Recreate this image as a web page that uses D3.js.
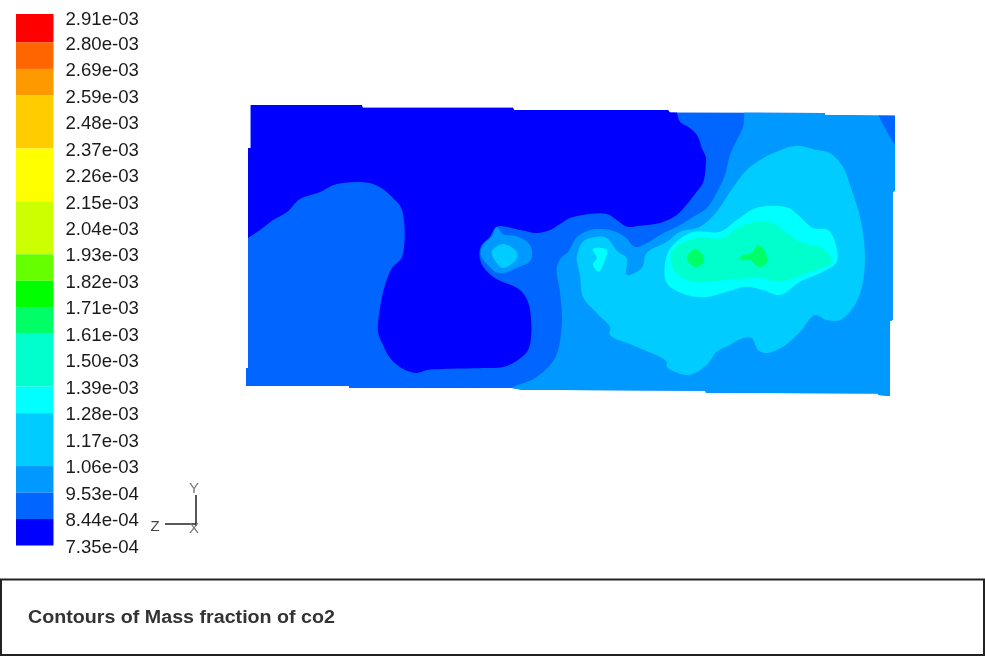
<!DOCTYPE html>
<html>
<head>
<meta charset="utf-8">
<title>Contours of Mass fraction of co2</title>
<script src="https://cdnjs.cloudflare.com/ajax/libs/d3/7.8.5/d3.min.js"></script>
<style>
  html, body { margin: 0; padding: 0; background: #fff; }
  svg { display: block; filter: blur(0.55px); }
  text { font-family: "Liberation Sans", sans-serif; fill: #1a1a1a; }
  .domain { display: none; }
</style>
</head>
<body>
<div id="chartDiv"></div>
<script>
// legend labels, top to bottom
var levelLabels = ["2.91e-03", "2.80e-03", "2.69e-03", "2.59e-03", "2.48e-03", "2.37e-03", "2.26e-03",
  "2.15e-03", "2.04e-03", "1.93e-03", "1.82e-03", "1.71e-03", "1.61e-03", "1.50e-03", "1.39e-03",
  "1.28e-03", "1.17e-03", "1.06e-03", "9.53e-04", "8.44e-04", "7.35e-04"];

// colour bands: upper level, lower level, colour
var bandUpper = ["2.91e-03", "2.80e-03", "2.69e-03", "2.59e-03", "2.37e-03", "2.15e-03", "1.93e-03", "1.82e-03",
  "1.71e-03", "1.61e-03", "1.39e-03", "1.28e-03", "1.06e-03", "9.53e-04", "8.44e-04"];
var bandLower = ["2.80e-03", "2.69e-03", "2.59e-03", "2.37e-03", "2.15e-03", "1.93e-03", "1.82e-03", "1.71e-03",
  "1.61e-03", "1.39e-03", "1.28e-03", "1.06e-03", "9.53e-04", "8.44e-04", "7.35e-04"];
var bandColors = ["#ff0000", "#ff6600", "#ff9900", "#ffcc00", "#ffff00", "#ccff00", "#66ff00", "#00ff00",
  "#00ff66", "#00ffcc", "#00ffff", "#00ccff", "#0099ff", "#0066ff", "#0000ff"];

// contour outlines, in domain units (x along, y down from top)
var outline = [[4.7,4],[115.7,4],[116.7,6.7],[267,6.7],[268,9],[422,9],[424,11.5],[579,12],[579,14],[649,14.7],[649,90],
  [646.7,90.7],[646.7,219],[644,220],[644,295],[632.3,294],[632,292.5],[460,291.7],[459.3,289.7],[314,289],[277,289],
  [265.7,287],[103,287],[103,285],[0,285],[0,267],[2,267],[2,47],[4.7,47]];
// the rest are clipped to the outline, so they run past it where they meet the wall
var lowRegion = [[-10,-10],[200,-10],[422,-10],[431,12],[434,20.7],[444,27],[452,35.7],
  [455.7,47],[459.7,55.7],[459.7,65.7],[457,82],[450.7,90.7],[442,102],[430.7,114],[414,122],[394,124.7],[380.7,125.7],
  [370.7,119],[360.7,113],[337,114],[324,117],[314,123],[304,129],[290.7,132],[274,129],[250.7,125.7],[244,135.7],
  [234.7,145.7],[234.7,160.7],[247,175.7],[274,189],[283,204],[283,247],[272,259],[257,266],[237,267],[197,268],
  [181,269],[171,272],[157,268],[144,257],[137,244],[132,231],[134,207],[139,184],[146,167],[156,156],[156,109],
  [147,97],[127,83],[91,83],[74,91],[54,98],[41,111],[27,119],[14,129],[2,137],[-10,145],[-10,60]];
var midRegion = [[503,0],[497,26],[491,39],[484,54],[479,74],[471,91],[461,107],[447,116],[434,124],[414,134],
  [401,142],[389,146],[379,136],[364,129],[344,129],[331,136],[322,151],[315.7,156],[310.7,167],[314,191],[315.7,224],
  [309,257],[289,277],[265.7,287],[250,300],[450,305],[670,305],[670,150],[670,-5],[580,-5]];
var cornerRegion = [[630,0],[639,27],[660,55],[670,0]];
var hotSpotOuter = [[250.7,126],[257,133],[272,135.7],[284,144],[285,159],[270.7,167],[257,172],[249,170.7],[242,164],
  [234.7,154],[237,144],[245.7,135.7]];
var hotSpotInner = [[257,143],[270.7,150.7],[270,159],[257,167],[250.7,162],[245.7,150.7]];
var plumeRegion = [[550.7,44.7],[570.7,49],[584,52],[597,65.7],[604,84],[610.7,104],[615.7,124],[619,157],[615.7,187],
  [607,207],[594,219],[580.7,219],[569,214],[554,231],[537,245.7],[520.7,252],[512,249],[505.7,237],[497,237],[484,244],
  [470.7,250.7],[460.7,264],[442,274],[420.7,265.7],[420.7,260.7],[390.7,245.7],[364,234],[364,226],[350.7,212],
  [337,196],[334,174],[330.7,157],[337,140.7],[350.7,135.7],[360.7,137],[372,150.7],[380.7,157],[380.7,174],[395.7,167],
  [400.7,152],[420.7,140.7],[434,130.7],[454,125.7],[470.7,110.7],[484,90.7],[500.7,69],[514,59],[530.7,50.7]];
var coreRegion = [[510.7,106.7],[542,106.7],[554,115.7],[567,127],[582,129],[589,140.7],[590.7,160.7],[577,170.7],
  [554,180.7],[534,194],[517,189],[500.7,185.7],[480.7,190.7],[460.7,196],[440.7,194],[420.7,182],[420,157],[427,144],
  [447,131],[474,130.7],[490.7,119]];
var sideSpot = [[346.7,148],[361,149],[357,164],[353,170.7],[347,164],[350.7,157]];
var innerCore = [[510.7,120.7],[527,122],[540.7,132],[557,142],[577,147],[585.7,160.7],[560.7,172],[534,180.7],[514,177],
  [480.7,179],[447,180.7],[429,170.7],[425.7,150.7],[449,137],[477,137],[490.7,127]];
var peakLeft = [[449,148],[456.7,154],[457,162],[449,166],[440.7,157]];
var peakRight = [[512,144],[519,150.7],[520.7,162],[512,165.7],[504,159],[494,159],[495.7,154.7],[505.7,152]];

var regionShapes = [lowRegion, midRegion, cornerRegion, hotSpotOuter, hotSpotInner, plumeRegion,
  coreRegion, sideSpot, innerCore, peakLeft, peakRight];
var regionBands = ["8.44e-04", "1.06e-03", "9.53e-04", "1.06e-03", "1.28e-03", "1.28e-03",
  "1.39e-03", "1.39e-03", "1.61e-03", "1.71e-03", "1.71e-03"];
var outlineBand = "9.53e-04";

var titleText = "Contours of Mass fraction of co2";

var width = 985;
var height = 664;

var chart = d3.select("#chartDiv").append("svg")
  .attr("width", width)
  .attr("height", height);

// legend
var levelScale = d3.scalePoint()
  .domain(levelLabels)
  .range([16, 545.5]);

var bandColor = d3.scaleOrdinal()
  .domain(bandUpper)
  .range(bandColors);

var barLeft = 16, barWidth = 37.5, barOverhang = 2;

chart.append("g").selectAll("rect")
  .data(bandUpper)
  .enter().append("rect")
    .attr("x", barLeft)
    .attr("y", function(d, i) { return levelScale(d) - (i == 0 ? barOverhang : 0); })
    .attr("width", barWidth)
    .attr("height", function(d, i) {
      return levelScale(bandLower[i]) - levelScale(d) + (i == 0 ? barOverhang : 0);
    })
    .style("fill", function(d) { return bandColor(d); });

var levelAxis = d3.axisRight(levelScale).tickSize(0).tickPadding(0);

var axisG = chart.append("g")
  .attr("transform", "translate(65.5,0)")
  .call(levelAxis);
axisG.selectAll("text")
  .style("font-family", '"Liberation Sans", sans-serif')
  .style("font-size", "18.6px")
  .attr("dy", function(d, i) { return i == 0 ? "0.46em" : "0.36em"; });

// contour plot
var xScale = d3.scaleLinear().domain([0, 650]).range([246, 896]);
var yScale = d3.scaleLinear().domain([0, 295]).range([101, 396]);

var outlinePath = d3.line()
  .x(function(d) { return xScale(d[0]); })
  .y(function(d) { return yScale(d[1]); })
  .curve(d3.curveLinearClosed);

var regionPath = d3.line()
  .x(function(d) { return xScale(d[0]); })
  .y(function(d) { return yScale(d[1]); })
  .curve(d3.curveCatmullRomClosed.alpha(0.5));

chart.append("clipPath").attr("id", "wallClip")
  .append("path").attr("d", outlinePath(outline));

chart.append("path")
  .attr("d", outlinePath(outline))
  .style("fill", bandColor(outlineBand));

chart.append("g")
  .attr("clip-path", "url(#wallClip)")
  .selectAll("path")
  .data(regionShapes)
  .enter().append("path")
    .attr("d", regionPath)
    .style("fill", function(d, i) { return bandColor(regionBands[i]); });

// z-y triad
var triad = chart.append("g").style("stroke", "#222").style("stroke-width", 1.5);
triad.append("line").attr("x1", 196).attr("y1", 495).attr("x2", 196).attr("y2", 526);
triad.append("line").attr("x1", 165).attr("y1", 524).attr("x2", 197).attr("y2", 524);

function triadLabel(txt, x, y, color) {
  chart.append("text")
    .attr("x", x).attr("y", y)
    .attr("text-anchor", "middle")
    .style("font-size", "15px")
    .style("fill", color)
    .text(txt);
}
triadLabel("Y", 194, 493, "#777");
triadLabel("Z", 155, 531, "#444");
triadLabel("X", 194, 533, "#777");

// title box
chart.append("rect")
  .attr("x", 1).attr("y", 579.5)
  .attr("width", 983).attr("height", 75.5)
  .style("fill", "#fff")
  .style("stroke", "#222")
  .style("stroke-width", 2);

chart.append("text")
  .attr("x", 28).attr("y", 623)
  .attr("textLength", 307)
  .attr("lengthAdjust", "spacingAndGlyphs")
  .style("font-size", "18px")
  .style("font-weight", "bold")
  .style("fill", "#333")
  .text(titleText);
</script>
</body>
</html>
